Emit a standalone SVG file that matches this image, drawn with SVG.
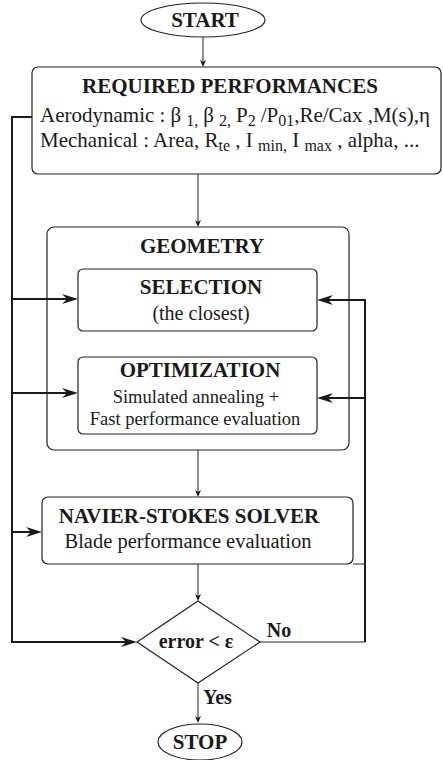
<svg xmlns="http://www.w3.org/2000/svg" width="443" height="760" viewBox="0 0 443 760">
<style>
.box{fill:#fff;stroke:#222;stroke-width:1.2}
.t{font-family:"Liberation Serif","Times New Roman",serif;fill:#1a1a1a}
.b{font-weight:bold}
.thin{fill:none;stroke:#222;stroke-width:1}
.thick{fill:none;stroke:#1a1a1a;stroke-width:2}
.ah{fill:#1a1a1a;stroke:none}
</style>
<rect width="443" height="760" fill="#fff"/>
<g id="geometry">
<rect class="box" x="47" y="227" width="302" height="223" rx="7"/>
<text class="t b" x="202" y="253" font-size="21" text-anchor="middle">GEOMETRY</text>
</g>
<g id="connectors">
<line class="thin" x1="203" y1="37" x2="203" y2="63"/>
<polygon class="ah" points="203,67 200,60 203,62 206,60"/>
<line class="thin" x1="198" y1="174" x2="198" y2="223"/>
<polygon class="ah" points="198,227 195,220 198,222 201,220"/>
<line class="thin" x1="198" y1="450" x2="198" y2="493"/>
<polygon class="ah" points="198,497 195,490 198,492 201,490"/>
<line class="thin" x1="198" y1="564" x2="198" y2="597"/>
<polygon class="ah" points="198,601 195,594 198,596 201,594"/>
<line class="thin" x1="198" y1="683" x2="198" y2="719"/>
<polygon class="ah" points="198,723 195,716 198,718 201,716"/>
<polyline class="thick" points="32,117 12,117 12,642 128,642"/>
<polygon class="ah" points="137,642 121,637 126,642 121,647"/>
<line class="thick" x1="12" y1="299" x2="70" y2="299"/>
<polygon class="ah" points="78,299 62,294 67,299 62,304"/>
<line class="thick" x1="12" y1="393" x2="70" y2="393"/>
<polygon class="ah" points="78,393 62,388 67,393 62,398"/>
<line class="thick" x1="12" y1="532" x2="34" y2="532"/>
<polygon class="ah" points="42,532 26,527 31,532 26,537"/>
<polyline class="thin" points="260,642 365,642"/>
<polyline class="thick" points="365,642 365,300 325,300"/>
<polygon class="ah" points="317,300 333,295 328,300 333,305"/>
<line class="thick" x1="365" y1="398" x2="325" y2="398"/>
<polygon class="ah" points="317,398 333,393 328,398 333,403"/>
<line class="thin" x1="353" y1="564" x2="365" y2="564"/>
</g>
<g id="start">
<ellipse class="box" cx="203" cy="20" rx="62" ry="17"/>
<text class="t b" x="205" y="27" font-size="21" text-anchor="middle">START</text>
</g>
<g id="required">
<rect class="box" x="32" y="67" width="409" height="107" rx="6"/>
<text class="t b" x="230" y="93" font-size="21" text-anchor="middle">REQUIRED PERFORMANCES</text>
<text class="t" x="40" y="122" font-size="21">Aerodynamic : β<tspan dx="5" dy="4" font-size="16">1,</tspan><tspan dx="5" dy="-4">β</tspan><tspan dx="5" dy="4" font-size="16">2,</tspan><tspan dx="5" dy="-4">P</tspan><tspan dy="4" font-size="16">2</tspan><tspan dx="5" dy="-4">/P</tspan><tspan dy="4" font-size="16">01</tspan><tspan dy="-4">,Re/Cax ,M(s),η</tspan></text>
<text class="t" x="40" y="147" font-size="21">Mechanical : Area, R<tspan dy="4" font-size="16">te</tspan><tspan dy="-4"> , I </tspan><tspan dy="4" font-size="16">min,</tspan><tspan dy="-4"> I </tspan><tspan dy="4" font-size="16">max</tspan><tspan dy="-4"> , alpha, ...</tspan></text>
</g>
<g id="selection">
<rect class="box" x="78" y="269" width="239" height="62" rx="5"/>
<text class="t b" x="201" y="294" font-size="21" text-anchor="middle">SELECTION</text>
<text class="t" x="201" y="320" font-size="20" text-anchor="middle">(the closest)</text>
</g>
<g id="optimization">
<rect class="box" x="78" y="357" width="239" height="77" rx="5"/>
<text class="t b" x="200" y="377" font-size="21" text-anchor="middle">OPTIMIZATION</text>
<text class="t" x="196" y="403" font-size="18.5" text-anchor="middle">Simulated annealing +</text>
<text class="t" x="195" y="425" font-size="18.5" text-anchor="middle">Fast performance evaluation</text>
</g>
<g id="navier-stokes">
<rect class="box" x="42" y="497" width="311" height="67" rx="6"/>
<text class="t b" x="189" y="523" font-size="21" text-anchor="middle">NAVIER-STOKES SOLVER</text>
<text class="t" x="188" y="548" font-size="20.5" text-anchor="middle">Blade performance evaluation</text>
</g>
<g id="decision">
<polygon class="box" points="198,601 260,642 198,683 137,642"/>
<text class="t b" x="196" y="648" font-size="20" text-anchor="middle">error &lt; ε</text>
<text class="t b" x="279" y="637" font-size="20" text-anchor="middle">No</text>
<text class="t b" x="203" y="704" font-size="20">Yes</text>
</g>
<g id="stop">
<ellipse class="box" cx="200" cy="742" rx="42" ry="18"/>
<text class="t b" x="200" y="749" font-size="21" text-anchor="middle">STOP</text>
</g>
</svg>
